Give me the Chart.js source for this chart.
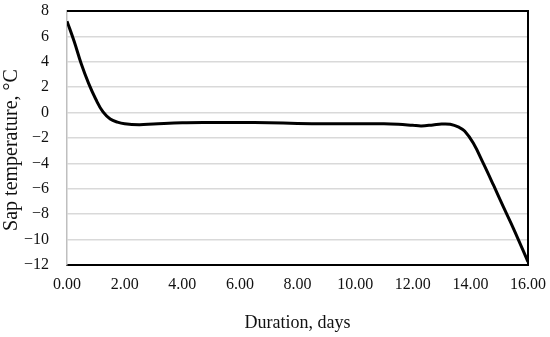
<!DOCTYPE html>
<html>
<head>
<meta charset="utf-8">
<script src="https://cdn.jsdelivr.net/npm/chart.js@4/dist/chart.umd.min.js"></script>
<style>
html,body{margin:0;padding:0;background:#fff;}
#wrap{width:550px;height:337px;position:relative;}
</style>
</head>
<body>
<div id="wrap"><canvas id="c" width="550" height="337"></canvas></div>
<script>
const days = [0, 0.25, 0.5, 0.75, 1.0, 1.25, 1.5, 1.75, 2.0, 2.5, 3, 4, 5, 6, 7, 8, 9, 10, 11, 11.5, 12, 12.3, 12.7, 13, 13.3, 13.6, 13.8, 14.1, 14.45, 14.8, 15.15, 15.5, 16];
const sapTemp = [7.2, 5.6, 3.8, 2.3, 1.05, 0.05, -0.5, -0.75, -0.88, -0.95, -0.9, -0.8, -0.78, -0.78, -0.8, -0.85, -0.88, -0.88, -0.88, -0.92, -1.0, -1.05, -0.97, -0.9, -0.92, -1.15, -1.45, -2.4, -4.0, -5.7, -7.45, -9.15, -11.75];
const xTitle = "Duration, days";
const yTitle = "Sap temperature, °C";

const points = days.map((d, i) => ({x: d, y: sapTemp[i]}));

const frame = {
  id: 'frame',
  afterDatasetsDraw(chart) {
    const {ctx, chartArea: a} = chart;
    ctx.save();
    ctx.strokeStyle = '#000';
    ctx.lineWidth = 2;
    ctx.beginPath();
    ctx.moveTo(a.left, a.top);
    ctx.lineTo(a.right, a.top);
    ctx.lineTo(a.right, a.bottom);
    ctx.stroke();
    ctx.restore();
  }
};

const serif = "'Liberation Serif', 'DejaVu Serif', serif";

new Chart(document.getElementById('c'), {
  type: 'line',
  data: {
    datasets: [{
      data: points,
      borderColor: '#000',
      borderWidth: 3,
      pointRadius: 0,
      tension: 0.4,
      fill: false
    }]
  },
  options: {
    responsive: false,
    animation: false,
    layout: {padding: {top: 11, right: 22, bottom: 0, left: 0}},
    plugins: {legend: {display: false}, tooltip: {enabled: false}},
    scales: {
      x: {
        type: 'linear',
        min: 0, max: 16,
        afterFit(s) { s.height = 72; },
        ticks: {
          stepSize: 2,
          padding: 0,
          color: '#111',
          font: {family: serif, size: 16},
          callback: v => v.toFixed(2)
        },
        grid: {display: false, drawTicks: true, tickLength: 10, tickColor: 'rgba(0,0,0,0)'},
        border: {display: true, color: '#000', width: 2},
        title: {
          display: true,
          text: xTitle,
          color: '#111',
          font: {family: serif, size: 18},
          padding: {top: 0, bottom: 3}
        }
      },
      y: {
        min: -12, max: 8,
        afterFit(s) {
          s.width = 67;
          if (!s._titleShifted) {
            const orig = s.drawTitle;
            s.drawTitle = function () {
              const ctx = this.ctx;
              ctx.save();
              ctx.translate(0, 12);
              orig.apply(this, arguments);
              ctx.restore();
            };
            s._titleShifted = true;
          }
        },
        ticks: {
          stepSize: 2,
          padding: 0,
          color: '#111',
          font: {family: serif, size: 16},
          callback: v => (v < 0 ? '\u2212' + Math.abs(v) : String(v))
        },
        grid: {color: '#d9d9d9', lineWidth: 1.5, drawTicks: true, tickLength: 18, tickColor: 'rgba(0,0,0,0)'},
        border: {display: true, color: '#bfbfbf', width: 1.5},
        title: {
          display: true,
          text: yTitle,
          color: '#111',
          font: {family: serif, size: 20, lineHeight: 1},
          padding: {top: 2, bottom: 0}
        }
      }
    }
  },
  plugins: [frame]
});
</script>
</body>
</html>
